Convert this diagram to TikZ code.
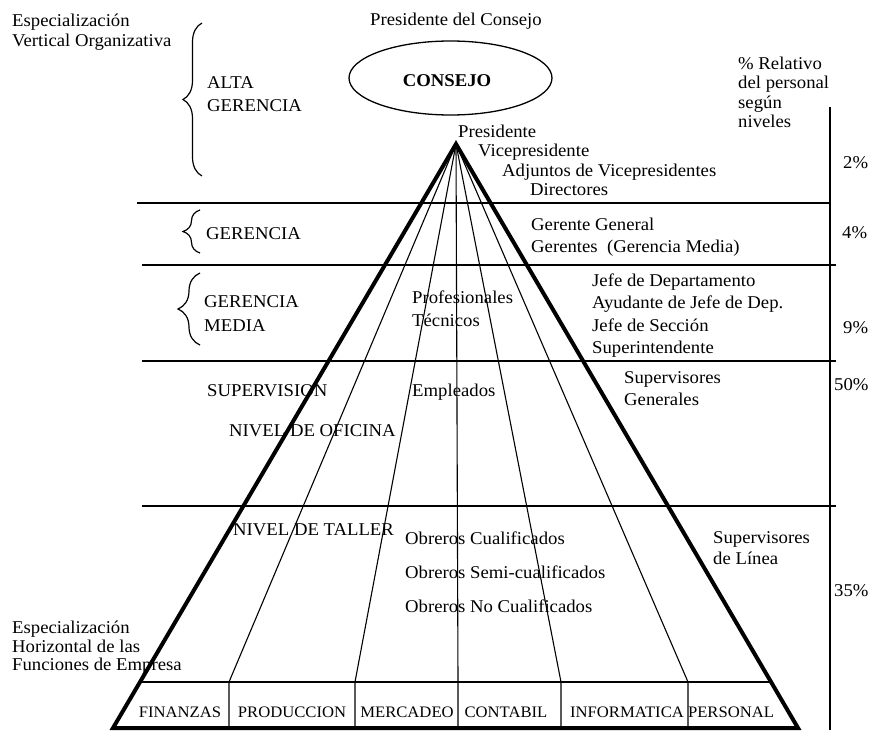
\documentclass[tikz,border=0pt]{standalone}
\usepackage{fontspec}
\setmainfont{Liberation Serif}[FakeStretch=1.04]
\usetikzlibrary{shapes.geometric,decorations.pathreplacing}

\begin{document}
\begin{tikzpicture}[x=1pt,y=-1pt,
  lbl/.style={inner sep=0pt, anchor=base west, font=\fontsize{18}{20}\selectfont},
  lblc/.style={lbl, anchor=base},
  dept/.style={inner sep=0pt, anchor=base, font=\fontsize{16}{18}\selectfont},
  rule/.style={line width=1.3pt},
  outline/.style={line width=4pt, line join=miter},
  fan/.style={line width=1.1pt},
  lbrace/.style={line width=1.2pt, decorate, decoration={brace, amplitude=#1}}
]
\useasboundingbox (0,0) rectangle (869,730);

% --- pyramid corners and function dividers ---
\coordinate (apex) at (456,144);
\coordinate (bl) at (113,728);
\coordinate (br) at (798,728);
\coordinate (boxl) at (140,682);
\coordinate (boxr) at (771,682);
\foreach \n/\x in {1/229,2/355,3/458,4/561,5/688}{
  \coordinate (t\n) at (\x,682);
  \coordinate (b\n) at (\x,728);
}

% --- level separators and percentage scale ---
\coordinate (h1l) at (137,203); \coordinate (h1r) at (830,203);
\coordinate (h2l) at (142,265); \coordinate (h2r) at (836,265);
\coordinate (h3l) at (142,361); \coordinate (h3r) at (836,361);
\coordinate (h4l) at (142,506); \coordinate (h4r) at (836,506);
\coordinate (vtop) at (830,107); \coordinate (vbot) at (830,730);

\draw[rule] (h1l) -- (h1r);
\draw[rule] (h2l) -- (h2r);
\draw[rule] (h3l) -- (h3r);
\draw[rule] (h4l) -- (h4r);
\draw[rule] (vtop) -- (vbot);

% fan of functional lines from the top
\foreach \n in {1,...,5}{
  \draw[fan] (apex) -- (t\n) -- (b\n);
}
\draw[rule] (boxl) -- (boxr);

% pyramid outline
\draw[outline] (bl) -- (apex) -- (br) -- cycle;

% --- board ---
\node[draw, ellipse, rule, inner sep=0pt, minimum width=203pt, minimum height=74pt] (consejo) at (450.5,78) {};
\node[lblc, font=\fontsize{18}{20}\selectfont\bfseries] (consejotxt) at (447,87) {CONSEJO};
\node[lblc] (prescons) at (456,26) {Presidente del Consejo};

% --- left headings ---
\node[lbl] (ev1) at (12,26.5) {Especialización};
\node[lbl] (ev2) at (12,46.7) {Vertical Organizativa};
\node[lbl] (eh1) at (12,633) {Especialización};
\node[lbl] (eh2) at (12,652) {Horizontal de las};
\node[lbl] (eh3) at (12,670) {Funciones de Empresa};

% --- braces and level names ---
\coordinate (br1a) at (202,176); \coordinate (br1b) at (202,23);
\coordinate (br2a) at (200,253); \coordinate (br2b) at (200,210);
\coordinate (br3a) at (200,345); \coordinate (br3b) at (200,273);
\draw[lbrace=19pt] (br1a) -- (br1b);
\draw[lbrace=17pt] (br2a) -- (br2b);
\draw[lbrace=22pt] (br3a) -- (br3b);

\node[lbl] (alta1) at (207,89) {ALTA};
\node[lbl] (alta2) at (207,112) {GERENCIA};
\node[lbl] (ger) at (206,239) {GERENCIA};
\node[lbl] (gm1) at (204,307) {GERENCIA};
\node[lbl] (gm2) at (204,331) {MEDIA};
\node[lbl] (sup) at (207,396) {SUPERVISION};
\node[lbl] (ofi) at (229,436) {NIVEL DE OFICINA};
\node[lbl] (tal) at (233,535) {NIVEL DE TALLER};

% --- positions ---
\node[lbl] (p1) at (458,138) {Presidente};
\node[lbl] (p2) at (478,157) {Vicepresidente};
\node[lbl] (p3) at (502,176) {Adjuntos de Vicepresidentes};
\node[lbl] (p4) at (530,195) {Directores};
\node[lbl] (g1) at (531,230) {Gerente General};
\node[lbl] (g2) at (531,252) {Gerentes\ \ (Gerencia Media)};
\node[lbl] (j1) at (592,286) {Jefe de Departamento};
\node[lbl] (j2) at (592,308) {Ayudante de Jefe de Dep.};
\node[lbl] (j3) at (592,331) {Jefe de Sección};
\node[lbl] (j4) at (592,353) {Superintendente};
\node[lbl] (pr1) at (412,303) {Profesionales};
\node[lbl] (pr2) at (412,326) {Técnicos};
\node[lbl] (emp) at (412,396) {Empleados};
\node[lbl] (sg1) at (624,383) {Supervisores};
\node[lbl] (sg2) at (624,405) {Generales};
\node[lbl] (ob1) at (405,544) {Obreros Cualificados};
\node[lbl] (ob2) at (405,578) {Obreros Semi-cualificados};
\node[lbl] (ob3) at (405,612) {Obreros No Cualificados};
\node[lbl] (sl1) at (713,543) {Supervisores};
\node[lbl] (sl2) at (713,564) {de Línea};

% --- percentage scale ---
\node[lbl] (r1) at (738,69.5) {\% Relativo};
\node[lbl] (r2) at (738,89) {del personal};
\node[lbl] (r3) at (738,108.5) {según};
\node[lbl] (r4) at (738,128) {niveles};
\node[lbl] (pc2) at (843,168) {2\%};
\node[lbl] (pc4) at (842,238) {4\%};
\node[lbl] (pc9) at (843,333) {9\%};
\node[lbl] (pc50) at (834,390) {50\%};
\node[lbl] (pc35) at (834,596) {35\%};

% --- functions ---
\node[dept] (f1) at (180,717) {FINANZAS};
\node[dept] (f2) at (292,717) {PRODUCCION};
\node[dept] (f3) at (407,717) {MERCADEO};
\node[dept] (f4) at (506,717) {CONTABIL};
\node[dept] (f5) at (627,717) {INFORMATICA};
\node[dept] (f6) at (731,717) {PERSONAL};
\end{tikzpicture}
\end{document}
